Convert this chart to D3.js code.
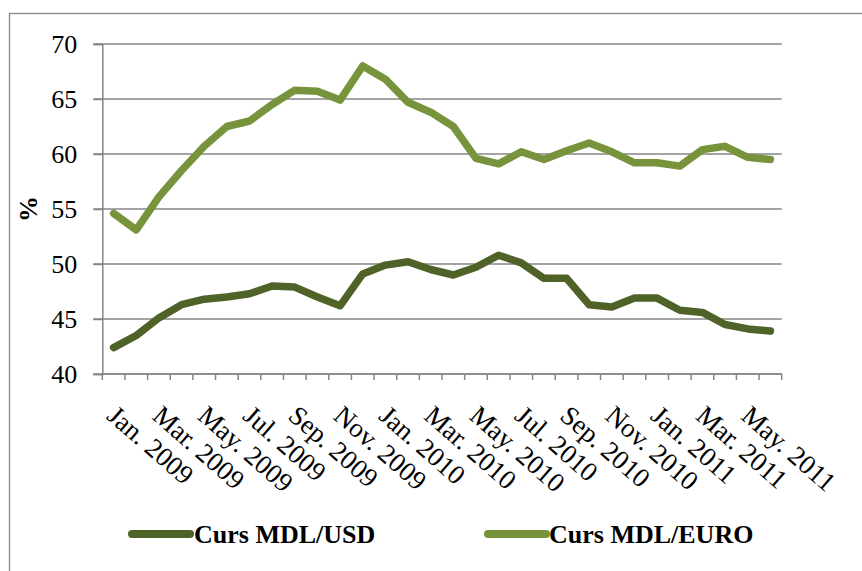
<!DOCTYPE html>
<html lang="en">
<head>
    <meta charset="UTF-8">
    <title>Curs MDL</title>
    <script src="https://cdn.jsdelivr.net/npm/d3@7/dist/d3.min.js"></script>
    <style>
        body { margin: 0; background: #fff; }
        svg, svg text { font-family: "Liberation Serif", "Times New Roman", serif !important; }
    </style>
</head>
<body>
<script>

    /******* DATA *******/
    const months = ["Jan.","Feb.","Mar.","Apr.","May.","Jun.","Jul.","Aug.","Sep.","Oct.","Nov.","Dec."];
    const years = [2009, 2010, 2011];
    // 30 monthly categories, Jan. 2009 - Jun. 2011
    const categories = [];
    years.forEach(y => months.forEach(m => categories.push(`${m} ${y}`)));
    categories.length = 30;

    const usd = [42.4, 43.5, 45.1, 46.3, 46.8, 47.0, 47.3, 48.0, 47.9, 47.0,
                 46.2, 49.1, 49.9, 50.2, 49.5, 49.0, 49.7, 50.8, 50.1, 48.7,
                 48.7, 46.3, 46.1, 46.9, 46.9, 45.8, 45.6, 44.5, 44.1, 43.9];
    const euro = [54.6, 53.1, 56.1, 58.5, 60.7, 62.5, 63.0, 64.5, 65.8, 65.7,
                  64.9, 68.0, 66.8, 64.7, 63.8, 62.5, 59.6, 59.1, 60.2, 59.5,
                  60.3, 61.0, 60.2, 59.2, 59.2, 58.9, 60.4, 60.7, 59.7, 59.5];
    const yTicks = [40, 45, 50, 55, 60, 65, 70];
    const seriesNames = ["Curs MDL/USD", "Curs MDL/EURO"];
    const colors = ["#4f6228", "#77933c"];

    /******* SVG *******/
    const width = 862, height = 571;
    const svg = d3.select("body").append("svg")
        .attr("width", width)
        .attr("height", height);

    const margins = { top: 44, bottom: 197, left: 102.3, right: 80.3 };

    // chart frame
    svg.append("rect")
        .attr("x", 9.5).attr("y", 13.5)
        .attr("width", 900).attr("height", 700)
        .attr("fill", "none")
        .attr("stroke", "#868686")
        .attr("stroke-width", 1.3);

    /******* SCALES *******/
    const xScale = d3.scaleBand()
        .domain(categories)
        .range([margins.left, width - margins.right]);
    const yScale = d3.scaleLinear()
        .domain([40, 70])
        .range([height - margins.bottom, margins.top]);

    // gridlines
    svg.append("g")
        .selectAll("line")
        .data(yTicks)
        .enter()
        .append("line")
        .attr("x1", margins.left - 9)
        .attr("x2", width - margins.right)
        .attr("y1", d => yScale(d))
        .attr("y2", d => yScale(d))
        .attr("stroke", "#868686")
        .attr("stroke-width", 1.5);

    // Y axis
    const yAxis = d3.axisLeft(yScale)
        .tickValues(yTicks)
        .tickSize(9)
        .tickPadding(16);
    const yG = svg.append("g")
        .attr("transform", `translate(${margins.left},0)`)
        .call(yAxis);
    yG.attr("font-family", null).attr("font-size", null);
    yG.select(".domain").attr("stroke", "#868686").attr("stroke-width", 1.5);
    yG.selectAll(".tick line").attr("stroke", "#868686").attr("stroke-width", 1.5);
    yG.selectAll("text")
        .style("font-size", "26px")
        .attr("fill", "#000");

    // X axis: tick marks at band boundaries
    const xG = svg.append("g");
    xG.append("line")
        .attr("x1", margins.left).attr("x2", width - margins.right)
        .attr("y1", yScale(40)).attr("y2", yScale(40))
        .attr("stroke", "#868686").attr("stroke-width", 1.5);
    const bounds = categories.map(c => xScale(c)).concat([xScale.range()[1]]);
    xG.selectAll("line.tk")
        .data(bounds)
        .enter()
        .append("line")
        .attr("class", "tk")
        .attr("x1", d => d).attr("x2", d => d)
        .attr("y1", yScale(40)).attr("y2", yScale(40) + 6)
        .attr("stroke", "#868686").attr("stroke-width", 1.5);

    // X labels every other month
    const cx = d => xScale(d) + xScale.bandwidth() / 2;
    xG.selectAll("text")
        .data(categories.filter((d, i) => i % 2 === 0))
        .enter()
        .append("text")
        .attr("transform", d => `translate(${cx(d) - 8},${yScale(40) + 44}) rotate(41)`)
        .attr("text-anchor", "start")
        .style("font-size", "27px")
        .attr("fill", "#000")
        .text(d => d);

    // Y title
    svg.append("text")
        .attr("transform", `translate(37,${(yScale(40) + yScale(70)) / 2}) rotate(-90)`)
        .attr("text-anchor", "middle")
        .style("font-size", "26px")
        .attr("font-weight", "bold")
        .text("%");

    /******* LINES *******/
    const lineGen = d3.line()
        .x((d, i) => cx(categories[i]))
        .y(d => yScale(d));

    [usd, euro].forEach((s, k) => {
        svg.append("path")
            .attr("d", lineGen(s))
            .attr("fill", "none")
            .attr("stroke", colors[k])
            .attr("stroke-width", 7.5)
            .attr("stroke-linejoin", "round")
            .attr("stroke-linecap", "round");
    });

    /******* LEGEND *******/
    const legendX = [[132, 190, 194], [488, 546, 549]];
    seriesNames.forEach((n, k) => {
        svg.append("line")
            .attr("x1", legendX[k][0]).attr("x2", legendX[k][1])
            .attr("y1", 534).attr("y2", 534)
            .attr("stroke", colors[k])
            .attr("stroke-width", 8)
            .attr("stroke-linecap", "round");
        svg.append("text")
            .attr("x", legendX[k][2])
            .attr("y", 543)
            .style("font-size", "26px")
            .attr("font-weight", "bold")
            .attr("fill", "#000")
            .text(n);
    });

</script>
</body>
</html>
